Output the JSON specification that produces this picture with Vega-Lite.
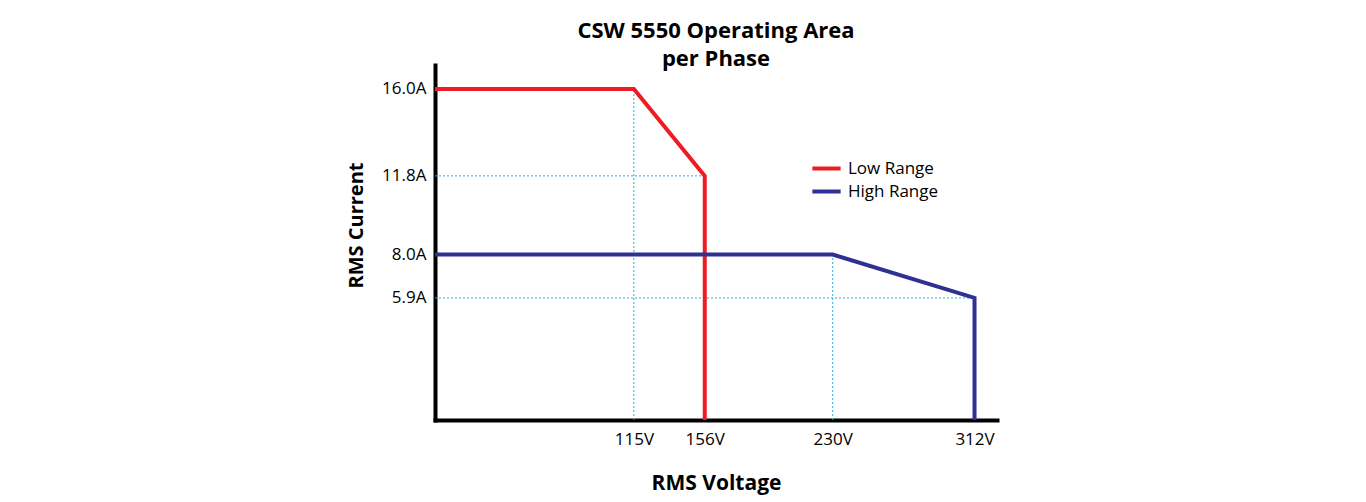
{
  "$schema": "https://vega.github.io/schema/vega-lite/v6.json",
  "width": 562,
  "height": 355,
  "autosize": {"type": "none"},
  "padding": {"left": 435, "top": 65, "right": 369, "bottom": 82},
  "background": "white",
  "config": {
    "view": {"stroke": null},
    "font": "Open Sans"
  },
  "title": {
    "text": ["CSW 5550 Operating Area", "per Phase"],
    "font": "Open Sans",
    "fontSize": 22,
    "fontWeight": "bold",
    "color": "black",
    "anchor": "middle",
    "lineHeight": 28,
    "offset": -6
  },
  "datasets": {
    "lines": [
      {"series": "Low Range", "voltage": 0, "current": 16, "order": 1},
      {"series": "Low Range", "voltage": 115, "current": 16, "order": 2},
      {"series": "Low Range", "voltage": 156, "current": 11.8, "order": 3},
      {"series": "Low Range", "voltage": 156, "current": 0, "order": 4},
      {"series": "High Range", "voltage": 0, "current": 8, "order": 1},
      {"series": "High Range", "voltage": 230, "current": 8, "order": 2},
      {"series": "High Range", "voltage": 312, "current": 5.9, "order": 3},
      {"series": "High Range", "voltage": 312, "current": 0, "order": 4}
    ],
    "guides": [
      {"x1": 115, "x2": 115, "y1": 0, "y2": 16},
      {"x1": 230, "x2": 230, "y1": 0, "y2": 8},
      {"x1": 0, "x2": 156, "y1": 11.8, "y2": 11.8},
      {"x1": 0, "x2": 312, "y1": 5.9, "y2": 5.9}
    ]
  },
  "layer": [
    {
      "data": {"name": "guides"},
      "mark": {"type": "rule", "color": "#29abe2", "strokeWidth": 1, "strokeDash": [2, 2]},
      "encoding": {
        "x": {"field": "x1", "type": "quantitative", "title": "RMS Voltage", "scale": {"domain": [0, 325], "nice": false}},
        "x2": {"field": "x2"},
        "y": {"field": "y1", "type": "quantitative", "title": "RMS Current", "scale": {"domain": [0, 17.16], "nice": false}},
        "y2": {"field": "y2"}
      }
    },
    {
      "data": {"name": "lines"},
      "mark": {"type": "line", "strokeWidth": 4, "strokeJoin": "miter", "clip": false},
      "encoding": {
        "x": {
          "field": "voltage",
          "type": "quantitative",
          "title": "RMS Voltage",
          "scale": {"domain": [0, 325], "nice": false},
          "axis": {
            "title": "RMS Voltage",
            "values": [115, 156, 230, 312],
            "labelExpr": "datum.value + 'V'",
            "ticks": false,
            "grid": false,
            "domainColor": "black",
            "domainWidth": 4,
            "domainCap": "square",
            "labelFont": "Open Sans",
            "labelFontSize": 17,
            "labelColor": "black",
            "labelPadding": 11,
            "labelFlush": false,
            "titleFont": "Open Sans",
            "titleFontSize": 21,
            "titleFontWeight": "bold",
            "titleColor": "black",
            "titleY": 63,
            "titleBaseline": "middle"
          }
        },
        "y": {
          "field": "current",
          "type": "quantitative",
          "title": "RMS Current",
          "scale": {"domain": [0, 17.16], "nice": false},
          "axis": {
            "title": "RMS Current",
            "values": [5.9, 8, 11.8, 16],
            "labelExpr": "format(datum.value, '.1f') + 'A'",
            "ticks": false,
            "grid": false,
            "domainColor": "black",
            "domainWidth": 4,
            "domainCap": "square",
            "labelFont": "Open Sans",
            "labelFontSize": 17,
            "labelColor": "black",
            "labelPadding": 9,
            "labelFlush": false,
            "titleFont": "Open Sans",
            "titleFontSize": 20,
            "titleFontWeight": "bold",
            "titleColor": "black",
            "titleX": -79,
            "titleY": 160,
            "titleAlign": "center",
            "titleBaseline": "middle"
          }
        },
        "color": {
          "field": "series",
          "type": "nominal",
          "scale": {"domain": ["Low Range", "High Range"], "range": ["#ed1c24", "#2e3192"]},
          "legend": {
            "title": null,
            "orient": "none",
            "legendX": 375,
            "legendY": 92,
            "symbolType": "stroke",
            "symbolStrokeWidth": 4,
            "symbolSize": 800,
            "clipHeight": 23,
            "labelFont": "Open Sans",
            "labelFontSize": 17,
            "labelColor": "black",
            "rowPadding": 0,
            "labelOffset": 5
          }
        },
        "order": {"field": "order", "type": "quantitative"}
      }
    }
  ]
}
